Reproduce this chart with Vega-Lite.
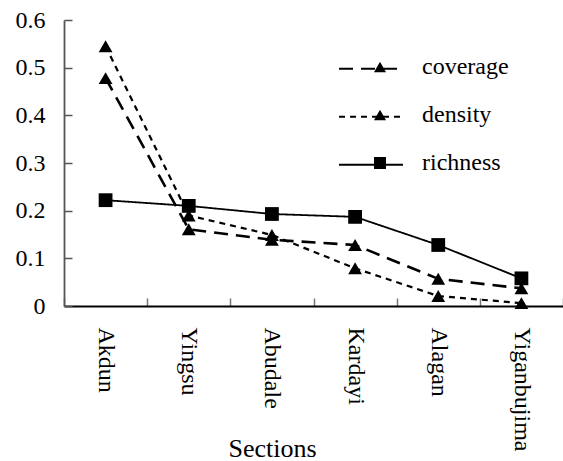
{
  "$schema": "https://vega.github.io/schema/vega-lite/v6.json",
  "width": 499,
  "height": 286,
  "autosize": {"type": "none"},
  "padding": {"left": 64, "top": 20, "right": 0, "bottom": 155},
  "background": "white",
  "config": {"view": {"stroke": null}, "font": "Liberation Serif"},
  "data": {
    "values": [
      {"section": "Akdun", "series": "coverage", "value": 0.478},
      {"section": "Akdun", "series": "density", "value": 0.545},
      {"section": "Akdun", "series": "richness", "value": 0.222},
      {"section": "Yingsu", "series": "coverage", "value": 0.161},
      {"section": "Yingsu", "series": "density", "value": 0.19},
      {"section": "Yingsu", "series": "richness", "value": 0.21},
      {"section": "Abudale", "series": "coverage", "value": 0.139},
      {"section": "Abudale", "series": "density", "value": 0.149},
      {"section": "Abudale", "series": "richness", "value": 0.193},
      {"section": "Kardayi", "series": "coverage", "value": 0.128},
      {"section": "Kardayi", "series": "density", "value": 0.079},
      {"section": "Kardayi", "series": "richness", "value": 0.187},
      {"section": "Alagan", "series": "coverage", "value": 0.057},
      {"section": "Alagan", "series": "density", "value": 0.021},
      {"section": "Alagan", "series": "richness", "value": 0.128},
      {"section": "Yiganbujima", "series": "coverage", "value": 0.037},
      {"section": "Yiganbujima", "series": "density", "value": 0.006},
      {"section": "Yiganbujima", "series": "richness", "value": 0.058}
    ]
  },
  "encoding": {
    "x": {
      "field": "section",
      "type": "nominal",
      "sort": ["Akdun", "Yingsu", "Abudale", "Kardayi", "Alagan", "Yiganbujima"],
      "scale": {"type": "band", "paddingInner": 0, "paddingOuter": 0},
      "axis": {
        "title": "Sections",
        "titleFont": "Liberation Serif",
        "titleFontSize": 26,
        "titleFontWeight": "normal",
        "titleColor": "black",
        "titleX": 208,
        "titleY": 142,
        "titleAlign": "center",
        "titleBaseline": "middle",
        "labelAngle": 90,
        "labelAlign": "left",
        "labelBaseline": "middle",
        "labelFont": "Liberation Serif",
        "labelFontSize": 24,
        "labelColor": "black",
        "labelPadding": 29,
        "tickBand": "extent",
        "tickSize": -8,
        "tickColor": "#777",
        "tickWidth": 1.5,
        "domainColor": "black",
        "domainWidth": 1.8,
        "grid": false
      }
    },
    "y": {
      "field": "value",
      "type": "quantitative",
      "scale": {"domain": [0, 0.6], "nice": false},
      "axis": {
        "title": null,
        "values": [0, 0.1, 0.2, 0.3, 0.4, 0.5, 0.6],
        "format": ".1~f",
        "labelFont": "Liberation Serif",
        "labelFontSize": 24,
        "labelColor": "black",
        "labelPadding": 27,
        "tickSize": -8,
        "tickColor": "#555",
        "tickWidth": 1.5,
        "domainColor": "#555",
        "domainWidth": 1.8,
        "grid": false
      }
    }
  },
  "layer": [
    {
      "mark": {"type": "line", "color": "black"},
      "encoding": {
        "strokeDash": {
          "field": "series",
          "type": "nominal",
          "scale": {"domain": ["coverage", "density", "richness"], "range": [[14, 8], [6, 5], [1, 0]]},
          "legend": {
            "title": null,
            "orient": "none",
            "legendX": 304,
            "legendY": 35,
            "symbolType": "M-6.83,0.3H3.83",
            "symbolSize": 144,
            "symbolStrokeWidth": 2,
            "symbolStrokeColor": "black",
            "symbolFillColor": "transparent",
            "labelFont": "Liberation Serif",
            "labelFontSize": 24,
            "labelColor": "black",
            "labelOffset": 30,
            "rowPadding": 24
          }
        },
        "strokeWidth": {
          "field": "series",
          "type": "ordinal",
          "scale": {"domain": ["richness", "density", "coverage"], "range": [1.8, 2.6, 2.2]},
          "legend": null
        }
      }
    },
    {
      "mark": {"type": "point", "filled": true, "color": "black", "opacity": 1, "size": 190},
      "encoding": {
        "shape": {
          "field": "series",
          "type": "nominal",
          "scale": {"domain": ["richness", "coverage", "density"], "range": ["square", "triangle-up", "triangle-up"]},
          "legend": {
            "title": null,
            "orient": "none",
            "legendX": 304,
            "legendY": 35,
            "values": ["coverage", "density", "richness"],
            "symbolSize": 144,
            "symbolFillColor": "black",
            "symbolStrokeWidth": 0,
            "labelFont": "Liberation Serif",
            "labelFontSize": 24,
            "labelExpr": "''",
            "labelOffset": 30,
            "rowPadding": 24
          }
        }
      }
    }
  ]
}
